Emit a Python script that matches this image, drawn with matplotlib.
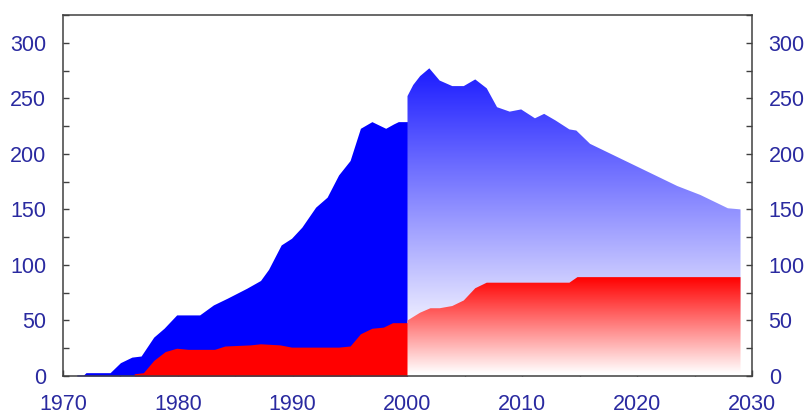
import numpy as np
import matplotlib
matplotlib.use("Agg")
import matplotlib.pyplot as plt
from matplotlib.ticker import MultipleLocator, FuncFormatter

plt.rcParams["font.family"] = ["Liberation Sans", "DejaVu Sans"]

# historical (solid) series
hist_total_years = [1971.2, 1971.8, 1972, 1974.1, 1975, 1976, 1976.8, 1977.9, 1978.8, 1979.9,
                    1981.9, 1983.1, 1984.3, 1986, 1987.2, 1987.9, 1989, 1989.9, 1990.8, 1992,
                    1993, 1994, 1995, 1995.9, 1996.9, 1998.1, 1998.8, 1999.2, 2000]
hist_total = [1, 1, 3, 3, 12, 17, 18, 35, 43, 55,
              55, 64, 70, 79, 86, 96, 118, 124, 134, 152,
              161, 181, 194, 223, 229, 223, 227, 229, 229]

hist_part_years = [1976.2, 1977, 1977.9, 1978.9, 1979.9, 1980.9, 1983.2, 1984.1, 1986.3, 1987.2,
                   1988.9, 1989.9, 1994, 1995, 1995.9, 1996.9, 1997.9, 1998.7, 2000]
hist_part = [2, 3, 14, 22, 25, 24, 24, 27, 28, 29,
             28, 26, 26, 27, 38, 43, 44, 48, 48]

# projected (gradient) series
proj_total_years = [2000, 2000.5, 2001.1, 2001.9, 2002.8, 2003.9, 2004.9, 2005.9, 2006.9, 2007.8,
                    2008.9, 2009.9, 2011.1, 2011.9, 2012.9, 2014.1, 2014.7, 2015.9, 2017.7, 2019.7,
                    2021.5, 2023.5, 2025.5, 2027.9, 2029]
proj_total = [252, 262, 270, 277, 266, 261, 261, 267, 259, 242,
              238, 240, 232, 236, 230, 222, 221, 209, 200, 190,
              181, 171, 163, 151, 150]

proj_part_years = [2000, 2001.1, 2002, 2002.8, 2003.9, 2004.9, 2005.9, 2006.9, 2014.1, 2014.8, 2029]
proj_part = [50, 57, 61, 61, 63, 68, 79, 84, 84, 89, 89]

label_color = "#2a2aa0"

fig = plt.figure(figsize=(8.08, 4.16), dpi=100)
ax = fig.add_axes([63 / 808, 1 - 376 / 416, (752 - 63) / 808, (376 - 15) / 416])

# solid history
ax.fill_between(hist_total_years, 0, hist_total, color="#0000ff", lw=0, zorder=2)
ax.fill_between(hist_part_years, 0, hist_part, color="#ff0000", lw=0, zorder=3)


def gradient_fill(xs, ys, v_top, v_bottom, rgb, z):
    # vertical colour ramp clipped to the area under the curve
    poly = ax.fill_between(xs, 0, ys, facecolor="none", lw=0)
    vals = np.linspace(325, 0, 400)
    t = np.clip((v_top - vals) / (v_top - v_bottom), 0, 1)[:, None]
    col = np.array(rgb)[None, :] * (1 - t) + np.ones(3)[None, :] * t
    img = np.repeat(col[:, None, :], 2, axis=1)
    im = ax.imshow(img, extent=[min(xs), max(xs), 0, 325], aspect="auto",
                   origin="upper", zorder=z, interpolation="bilinear")
    im.set_clip_path(poly.get_paths()[0], transform=ax.transData)


gradient_fill(proj_total_years, proj_total, 285, 30, (0.08, 0.08, 1.0), 2)
gradient_fill(proj_part_years, proj_part, 89, 2, (1.0, 0.0, 0.0), 3)

ax.set_xlim(1970, 2030)
ax.set_ylim(0, 325)

for s in ax.spines.values():
    s.set_color("#404040")
    s.set_linewidth(1.1)
    s.set_zorder(5)

ax.xaxis.set_major_locator(MultipleLocator(10))
ax.xaxis.set_minor_locator(MultipleLocator(5))
ax.yaxis.set_major_locator(MultipleLocator(50))
ax.yaxis.set_minor_locator(MultipleLocator(25))
ax.xaxis.set_major_formatter(FuncFormatter(lambda v, p: f"{int(v)}"))

ax.tick_params(axis="both", which="both", direction="in", length=4.5, width=1.0,
               color="#404040", labelsize=15.5, labelcolor=label_color)
ax.tick_params(axis="y", which="both", left=True, right=True, labelleft=True,
               labelright=True, pad=12)
ax.tick_params(axis="x", which="both", bottom=True, top=False, pad=13)

fig.savefig("out.png", dpi=100)
